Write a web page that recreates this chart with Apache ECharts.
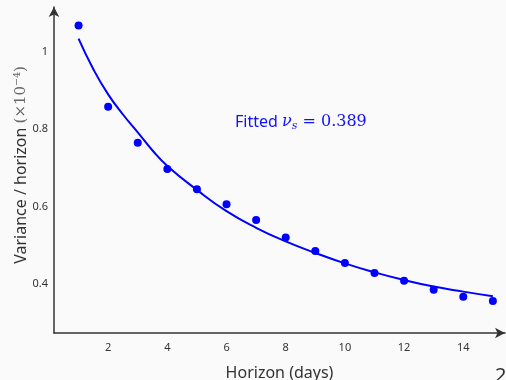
<!DOCTYPE html>
<html>
<head>
<meta charset="utf-8">
<script src="https://cdn.jsdelivr.net/npm/echarts@6/dist/echarts.min.js"></script>
<style>
  html, body { margin: 0; padding: 0; background: #fafafa; }
  #chart { width: 506px; height: 380px; }
</style>
</head>
<body>
<div id="chart"></div>
<script>
// observed variance / horizon at each horizon (x1e-4)
const horizons = [1, 2, 3, 4, 5, 6, 7, 8, 9, 10, 11, 12, 13, 14, 15];
const observed = [1.068, 0.858, 0.765, 0.697, 0.645, 0.606, 0.565, 0.520, 0.485, 0.454, 0.428, 0.408, 0.385, 0.367, 0.356];

// fitted curve
const fitX = [1, 1.5, 2, 2.5, 3, 3.5, 4, 5, 6, 7, 8, 9, 10, 11, 12, 13, 14, 15];
const fitY = [1.034, 0.955, 0.890, 0.838, 0.792, 0.745, 0.705, 0.643, 0.588, 0.545, 0.510, 0.480, 0.453, 0.430, 0.410, 0.393, 0.380, 0.368];

const xTicks = [2, 4, 6, 8, 10, 12, 14];
const yTicks = [0.4, 0.6, 0.8, 1];

const font = 'Noto Sans';
const axisColor = '#333';

const myChart = echarts.init(document.getElementById('chart'));
myChart.setOption({
  backgroundColor: '#fafafa',
  animation: false,
  grid: { left: 54, right: 1, top: 7, bottom: 47, outerBoundsMode: 'none', containLabel: false },
  xAxis: {
    type: 'value',
    min: 0.17,
    max: 15.41,
    name: 'Horizon (days)',
    nameLocation: 'middle',
    nameGap: 32,
    nameTextStyle: { fontFamily: font, fontSize: 16, color: '#333' },
    splitLine: { show: false },
    axisTick: { show: false },
    axisLine: {
      symbol: ['none', 'arrow'],
      symbolSize: [8, 10],
      lineStyle: { color: axisColor, width: 1.5 }
    },
    axisLabel: {
      customValues: xTicks,
      fontFamily: font,
      fontSize: 11,
      color: '#333',
      margin: 9
    }
  },
  yAxis: {
    type: 'value',
    min: 0.273,
    max: 1.116,
    splitLine: { show: false },
    axisTick: { show: false },
    axisLine: {
      symbol: ['none', 'arrow'],
      symbolSize: [8, 10],
      lineStyle: { color: axisColor, width: 1.5 }
    },
    axisLabel: {
      customValues: yTicks,
      fontFamily: font,
      fontSize: 11,
      color: '#333',
      margin: 6
    }
  },
  graphic: [
    {
      // y axis title, placed by hand
      type: 'text',
      x: 21,
      y: 165,
      rotation: Math.PI / 2,
      style: {
        text: '{a|Variance / horizon }{b|(×10⁻⁴)}',
        align: 'center',
        verticalAlign: 'middle',
        rich: {
          a: { fontFamily: font, fontSize: 16, fill: '#333' },
          b: { fontFamily: 'DejaVu Serif', fontSize: 15, fill: '#666' }
        }
      }
    },
    {
      type: 'text',
      left: 235,
      top: 114,
      style: {
        text: '{a|Fitted }{b|ν}{s|s}{c| = 0.389}',
        fill: '#1010ff',
        rich: {
          a: { fontFamily: font, fontSize: 16, fill: '#1010ff' },
          b: { fontFamily: 'DejaVu Serif', fontStyle: 'italic', fontSize: 16, fill: '#1010ff' },
          s: { fontFamily: 'DejaVu Serif', fontStyle: 'italic', fontSize: 11, fill: '#1010ff', padding: [8, 0, 0, 0] },
          c: { fontFamily: 'DejaVu Serif', fontSize: 16, fill: '#1010ff' }
        }
      }
    },
    {
      type: 'text',
      left: 495,
      top: 366,
      style: { text: '2', fontFamily: font, fontSize: 20, fill: '#333' }
    }
  ],
  series: [
    {
      name: 'fit',
      type: 'line',
      smooth: true,
      showSymbol: false,
      lineStyle: { color: '#0000ff', width: 2 },
      data: fitX.map((x, i) => [x, fitY[i]]),
      z: 2
    },
    {
      name: 'observed',
      type: 'scatter',
      symbolSize: 8,
      itemStyle: { color: '#0000ff', opacity: 1 },
      data: horizons.map((h, i) => [h, observed[i]]),
      z: 3
    }
  ]
});

window.addEventListener('resize', () => {
  myChart.resize();
});
</script>
</body>
</html>
